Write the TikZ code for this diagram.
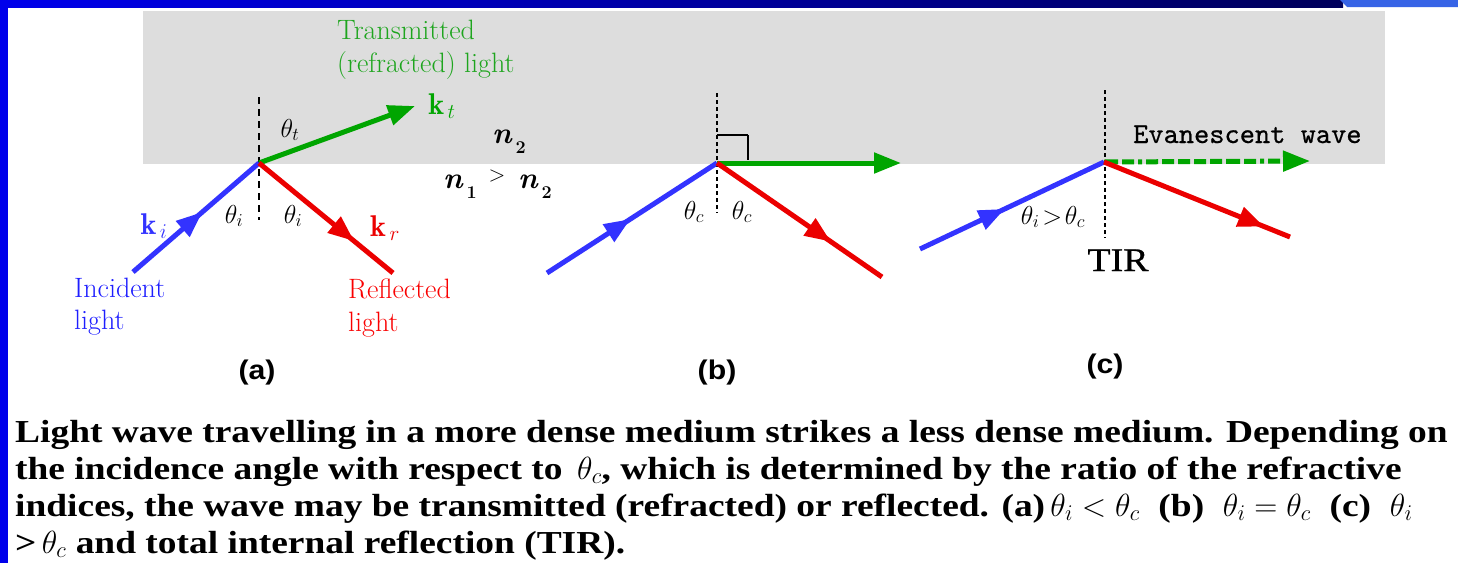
\RequirePackage{fix-cm}
\documentclass[tikz,border=0pt]{standalone}
\usepackage{fontspec}
\usepackage{amsmath}
\usetikzlibrary{arrows.meta,decorations.markings}
\newfontfamily\capfont[FakeStretch=1.17]{Liberation Serif}
\newfontfamily\tirfont[FakeStretch=1.15,FakeBold=0.8]{Liberation Serif}
\newfontfamily\panelfont[FakeStretch=1.12]{Liberation Sans}
\newfontfamily\evfont[Extension=.otf,FakeBold=0.6]{lmmono10-regular}
\definecolor{framebl}{RGB}{0,0,235}
\definecolor{navybl}{RGB}{0,0,90}
\definecolor{lightbl}{RGB}{55,100,230}
\definecolor{graybg}{RGB}{221,221,221}
\definecolor{rblue}{RGB}{51,51,255}
\definecolor{rred}{RGB}{235,0,0}
\definecolor{rgreen}{RGB}{0,165,0}
\definecolor{tgreen}{RGB}{30,165,30}
\definecolor{tblue}{RGB}{30,30,255}
\definecolor{tred}{RGB}{250,0,0}
\tikzset{
  ray/.style={line width=5pt},
  midarrow/.style={postaction={decorate,decoration={markings,mark=at position #1 with {\arrow{Triangle[length=26pt,width=20pt]}}}}},
  endarrow/.style={-{Triangle[length=27pt,width=20pt]}},
  normaldash/.style={line width=2pt,dash pattern=on 7pt off 5pt},
  normaldot/.style={line width=1.8pt,dash pattern=on 4pt off 3pt},
  lab/.style={font=\fontsize{28}{30}\selectfont, inner sep=0pt},
  thlab/.style={font=\fontsize{26}{26}\selectfont, inner sep=0pt},
  klab/.style={font=\fontsize{30}{30}\selectfont, inner sep=0pt},
  nlab/.style={font=\fontsize{30}{30}\selectfont, inner sep=0pt},
  panel/.style={font=\panelfont\bfseries\fontsize{27}{27}\selectfont, inner sep=0pt},
  capline/.style={font=\capfont\bfseries\fontsize{32}{32}\selectfont, inner sep=0pt, anchor=base west}
}
\newcommand{\nsub}[1]{\textbf{\textit{n}}\kern3pt\raisebox{-10pt}{\fontsize{18}{18}\selectfont\textbf{#1}}}
\begin{document}
\begin{tikzpicture}[x=1pt,y=-1pt]
\useasboundingbox (0,0) rectangle (1458,563);
\fill[white] (0,0) rectangle (1458,563);
% slide frame
\shade[left color=framebl,right color=navybl] (0,0) rectangle (1343,7);
\fill[lightbl] (1340,0) -- (1458,0) -- (1458,7) -- (1347,7) -- cycle;
\fill[framebl] (0,0) rectangle (8,563);
% less dense medium
\fill[graybg] (143,10.7) rectangle (1385,164);

% ---------- (a)
\coordinate (va) at (259,163);
\coordinate (nat) at (259,97);
\coordinate (nab) at (259,220);
\coordinate (ia) at (133,272);
\coordinate (ra) at (393,273);
\coordinate (ta) at (415,106);
\draw[normaldash] (nat) -- (nab);
\draw[ray,rgreen,endarrow] (va) -- (ta);
\draw[ray,rblue,midarrow=0.55] (ia) -- (va);
\draw[ray,rred,midarrow=0.71] (va) -- (ra);
\node[lab,tgreen,anchor=base west] (tr1) at (337,39) {Transmitted};
\node[lab,tgreen,anchor=base west] (tr2) at (337,72) {(refracted) light};
\node[lab,tblue,anchor=base west] (in1) at (74,297) {Incident};
\node[lab,tblue,anchor=base west] (in2) at (74,329) {light};
\node[lab,tred,anchor=base west] (re1) at (348,298) {Reflected};
\node[lab,tred,anchor=base west] (re2) at (348,331) {light};
\node[klab,rgreen] (kt) at (442,106) {$\mathbf{k}_{\,t}$};
\node[klab,rblue] (ki) at (154,226) {$\mathbf{k}_{\,i}$};
\node[klab,rred] (kr) at (385,228) {$\mathbf{k}_{\,r}$};
\node[thlab] (tht) at (290,130) {$\theta_t$};
\node[thlab] (thia) at (234,216) {$\theta_i$};
\node[thlab] (thib) at (293,216) {$\theta_i$};
\node[nlab] (n2a) at (509,142) {\nsub{2}};
\node[nlab] (n1) at (460,187) {\nsub{1}};
\node[inner sep=0pt,font=\fontsize{22}{22}\selectfont] (gt) at (497,176) {$>$};
\node[nlab] (n2b) at (535,187) {\nsub{2}};
\node[panel] (pa) at (257,373) {(a)};

% ---------- (b)
\coordinate (vb) at (717,163);
\coordinate (nbt) at (717,93);
\coordinate (nbb) at (717,213);
\coordinate (ib) at (547,273);
\coordinate (rb) at (882,277);
\coordinate (tb) at (901,163);
\coordinate (sq1) at (717,135);
\coordinate (sq2) at (748,135);
\coordinate (sq3) at (748,160);
\draw[normaldot] (nbt) -- (nbb);
\draw[line width=1.6pt] (sq1) -- (sq2);
\draw[line width=2pt] (sq2) -- (sq3);
\draw[ray,rgreen,endarrow] (vb) -- (tb);
\draw[ray,rblue,midarrow=0.49] (ib) -- (vb);
\draw[ray,rred,midarrow=0.69] (vb) -- (rb);
\node[thlab] (thcb1) at (694,212) {$\theta_c$};
\node[thlab] (thcb2) at (742,212) {$\theta_c$};
\node[panel] (pb) at (717,373) {(b)};

% ---------- (c)
\coordinate (vc) at (1104,162);
\coordinate (nct) at (1105,90);
\coordinate (ncb) at (1105,238);
\coordinate (ic) at (920,249);
\coordinate (rc) at (1290,237);
\coordinate (tc) at (1310,161);
\draw[normaldot] (nct) -- (ncb);
\draw[ray,rgreen,endarrow,dash pattern=on 14pt off 4pt on 12pt off 4pt on 4pt off 4pt on 12pt off 4pt on 12pt off 4pt on 12pt off 4pt on 12pt off 4pt on 12pt off 4pt] (vc) -- (tc);
\draw[ray,rblue,midarrow=0.46] (ic) -- (vc);
\draw[ray,rred,midarrow=0.86] (vc) -- (rc);
\node[inner sep=0pt,anchor=base west,font=\evfont\fontsize{29}{29}\selectfont] (ev) at (1133,143) {Evanescent wave};
\node[thlab] (thgt) at (1053,217) {$\theta_i\!>\!\theta_c$};
\node[inner sep=0pt,anchor=base,font=\tirfont\fontsize{33}{33}\selectfont] (tir) at (1118,271) {TIR};
\node[panel] (pc) at (1105,367) {(c)};

% ---------- caption
\node[capline] (c1) at (15,442) {Light wave travelling in a more dense medium strikes a less dense medium. Depending on};
\node[capline] (c2) at (15,479) {the incidence angle with respect to \,$\theta_c$, which is determined by the ratio of the refractive};
\node[capline] (c3) at (15,516) {indices, the wave may be transmitted (refracted) or reflected. (a)\,$\theta_i < \theta_c$\ \ (b)\ \ $\theta_i = \theta_c$\ \ (c)\ \ $\theta_i$};
\node[capline] (c4) at (15,553) {>\,$\theta_c$ and total internal reflection (TIR).};
\end{tikzpicture}
\end{document}
